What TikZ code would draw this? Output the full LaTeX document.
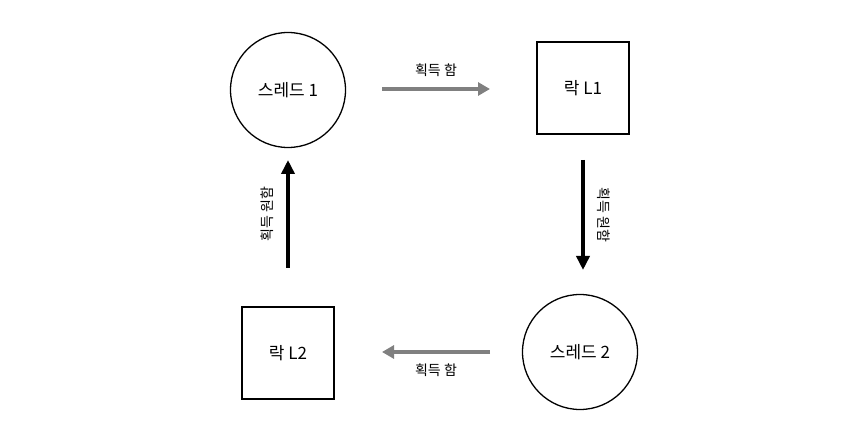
\documentclass[tikz,border=0pt]{standalone}
\usepackage{fontspec}
\setmainfont{Noto Sans CJK KR}
\usetikzlibrary{arrows.meta}
\begin{document}
\begin{tikzpicture}[x=1pt,y=-1pt,
  thr/.style={draw,circle,line width=1.3pt,minimum size=115pt,inner sep=0pt,font=\fontsize{17}{20}\selectfont},
  lck/.style={draw,rectangle,line width=1.3pt,minimum size=92pt,inner sep=0pt,font=\fontsize{17}{20}\selectfont},
  garr/.style={line width=4.5pt,draw={rgb,255:red,128;green,128;blue,128},-{Triangle[length=12pt,width=13pt]}},
  barr/.style={line width=4.5pt,draw=black,-{Triangle[length=14pt,width=13pt]}},
  lbl/.style={font=\fontsize{14}{16}\selectfont,inner sep=0pt}]
\useasboundingbox (0,0) rectangle (860,430);
\node[thr] (t1) at (288,90) {스레드 1};
\node[lck] (l1) at (583,88) {락 L1};
\node[thr] (t2) at (580,352) {스레드 2};
\node[lck] (l2) at (288,353) {락 L2};
\coordinate (a1) at (382,89); \coordinate (a2) at (490,89);
\coordinate (b1) at (583,160); \coordinate (b2) at (583,270);
\coordinate (c1) at (490,352); \coordinate (c2) at (382,352);
\coordinate (d1) at (288,268); \coordinate (d2) at (288,160);
\draw[garr] (a1) -- (a2) node[lbl,midway,above=10pt] (la) {획득 함};
\draw[barr] (b1) -- (b2) node[lbl,midway,right=12pt,rotate=-90,anchor=south] (lb) {획득 원함};
\draw[garr] (c1) -- (c2) node[lbl,midway,below=10pt] (lc) {획득 함};
\draw[barr] (d1) -- (d2) node[lbl,midway,rotate=90,anchor=south,yshift=12pt] (ld) {획득 원함};
\end{tikzpicture}
\end{document}
